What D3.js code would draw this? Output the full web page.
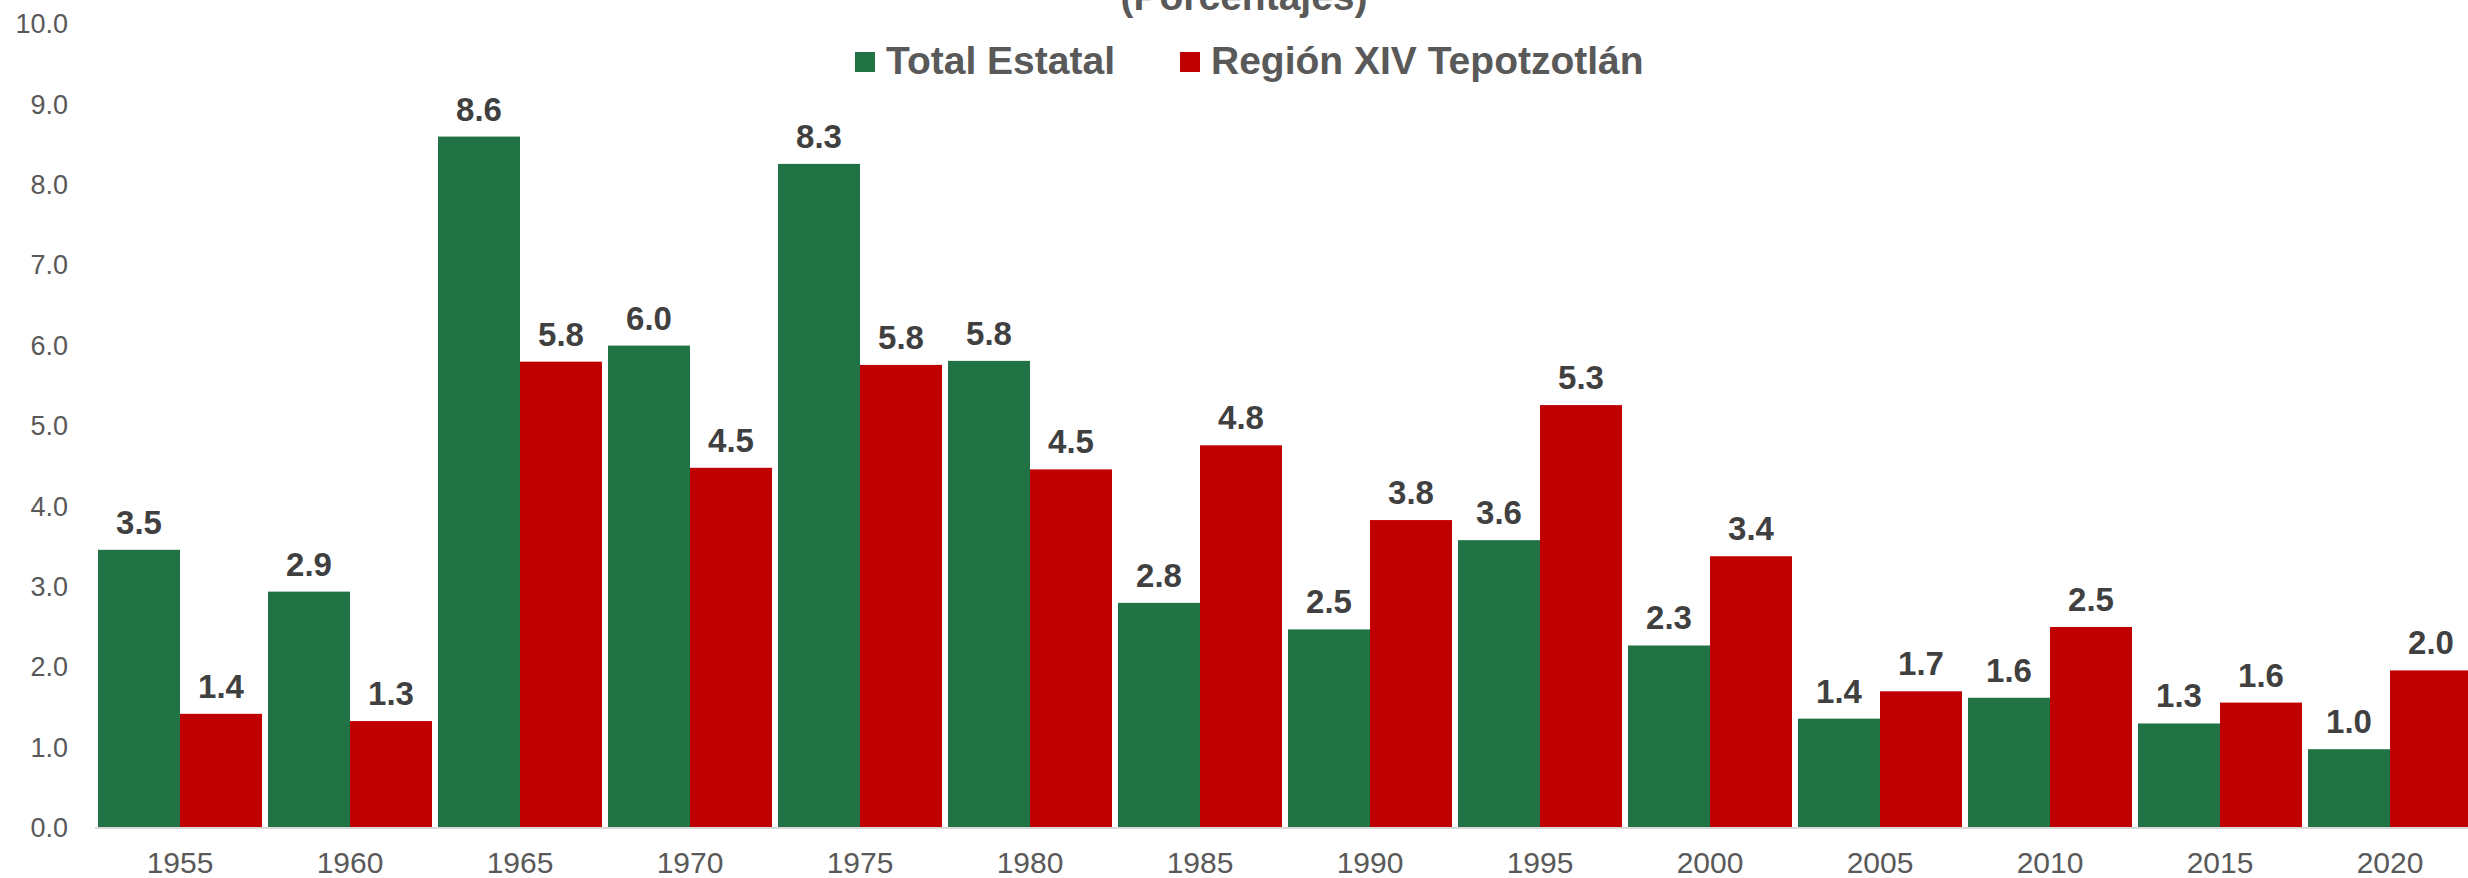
<!DOCTYPE html>
<html>
<head>
<meta charset="utf-8">
<script src="https://cdn.jsdelivr.net/npm/d3@7"></script>
<style>
  body { margin: 0; background: #fff; }
  svg { display: block; font-family: "Liberation Sans", Arial, sans-serif; }
</style>
</head>
<body>
<div id="chart"></div>
<script>
const years = ['1955','1960','1965','1970','1975','1980','1985','1990','1995','2000','2005','2010','2015','2020'];
const totalEstatal = [3.46, 2.94, 8.6, 6.0, 8.26, 5.81, 2.8, 2.47, 3.58, 2.27, 1.36, 1.62, 1.3, 0.98];
const regionXIV = [1.42, 1.33, 5.8, 4.48, 5.76, 4.46, 4.76, 3.83, 5.26, 3.38, 1.7, 2.5, 1.56, 1.96];
const seriesNames = ['Total Estatal', 'Región XIV Tepotzotlán'];
const yTicks = [0, 1, 2, 3, 4, 5, 6, 7, 8, 9, 10];

const colors = ['#217346', '#C00000'];

const width = 2468, height = 878;
const svg = d3.select('#chart').append('svg')
  .attr('width', width)
  .attr('height', height);

const x = d3.scaleBand()
  .domain(years)
  .range([95, 2475])
  .paddingInner(6 / 170)
  .paddingOuter(3 / 170);

const xSub = d3.scaleBand()
  .domain([0, 1])
  .range([0, x.bandwidth()]);

const y = d3.scaleLinear()
  .domain([0, 10])
  .range([828, 24]);

const fmt = d3.format('.1f');

// y axis (labels only)
const yAxis = svg.append('g')
  .attr('transform', 'translate(68,0)')
  .call(d3.axisLeft(y).tickValues(yTicks).tickFormat(fmt).tickSize(0).tickPadding(0));
yAxis.select('.domain').remove();
yAxis.selectAll('text')
  .attr('fill', '#595959')
  .style('font-size', '27px')
  .style('font-family', '"Liberation Sans", Arial, sans-serif');

// bars
const rows = years.map((yr, i) => ({ year: yr, values: [totalEstatal[i], regionXIV[i]] }));

const groups = svg.selectAll('g.grp')
  .data(rows)
  .enter().append('g')
  .attr('class', 'grp')
  .attr('transform', d => 'translate(' + x(d.year) + ',0)');

groups.selectAll('rect')
  .data(d => d.values)
  .enter().append('rect')
  .attr('x', (d, i) => xSub(i))
  .attr('width', xSub.bandwidth())
  .attr('y', d => y(d))
  .attr('height', d => y(0) - y(d))
  .attr('fill', (d, i) => colors[i]);

groups.selectAll('text')
  .data(d => d.values)
  .enter().append('text')
  .attr('x', (d, i) => xSub(i) + xSub.bandwidth() / 2)
  .attr('y', d => y(d) - 16)
  .attr('text-anchor', 'middle')
  .attr('fill', '#404040')
  .style('font-size', '33px')
  .style('font-weight', 'bold')
  .text(d => fmt(d));

// x axis: light line + year labels
const xAxis = svg.append('g')
  .attr('transform', 'translate(0,' + y(0) + ')')
  .call(d3.axisBottom(x).tickSize(0).tickPadding(24));
xAxis.select('.domain')
  .attr('stroke', '#d9d9d9')
  .attr('stroke-width', 2)
  .attr('d', 'M95,0H' + width);
xAxis.selectAll('text')
  .attr('fill', '#595959')
  .style('font-size', '30px')
  .style('font-family', '"Liberation Sans", Arial, sans-serif');

// title (cut at top, as in the source)
svg.append('text')
  .attr('x', 1244)
  .attr('y', 10)
  .attr('text-anchor', 'middle')
  .attr('fill', '#595959')
  .style('font-size', '39px')
  .style('font-weight', 'bold')
  .text('(Porcentajes)');

// legend
const legendX = [855, 1180];
const legend = svg.selectAll('g.leg')
  .data(seriesNames)
  .enter().append('g')
  .attr('class', 'leg')
  .attr('transform', (d, i) => 'translate(' + legendX[i] + ',52)');
legend.append('rect')
  .attr('width', 20)
  .attr('height', 20)
  .attr('fill', (d, i) => colors[i]);
legend.append('text')
  .attr('x', 31)
  .attr('y', 22)
  .attr('fill', '#595959')
  .style('font-size', '39px')
  .style('font-weight', 'bold')
  .text(d => d);
</script>
</body>
</html>
